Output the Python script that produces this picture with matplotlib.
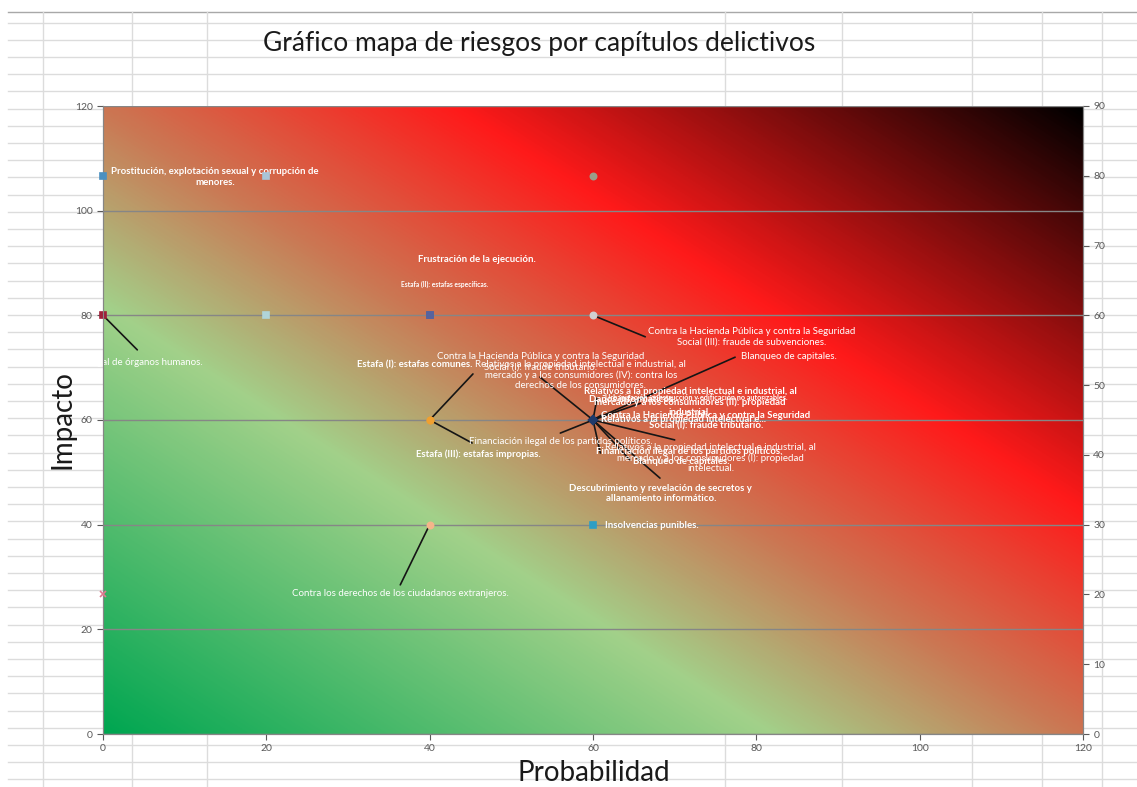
import numpy as np
import matplotlib.pyplot as plt
from matplotlib.colors import LinearSegmentedColormap

plt.rcParams['font.family'] = ['Lato', 'DejaVu Sans']

# capítulos delictivos: probabilidad, impacto y eje en que se dibuja cada uno
delitos = [
    "Prostitución, explotación sexual y corrupción de\nmenores.",
    "",
    "",
    "Tráfico ilegal de órganos humanos.",
    "",
    "Frustración de la ejecución.",
    "Estafa (II): estafas específicas.",
    "Contra la Hacienda Pública y contra la Seguridad\nSocial (III): fraude de subvenciones.",
    "Estafa (I): estafas comunes.",
    "Estafa (III): estafas impropias.",
    "Contra la Hacienda Pública y contra la Seguridad\nSocial (I): fraude tributario.",
    "Relativos a la propiedad intelectual e industrial, al\nmercado y a los consumidores (IV): contra los\nderechos de los consumidores.",
    "Financiación ilegal de los partidos políticos.",
    "Blanqueo de capitales.",
    "Relativos a la propiedad intelectual e industrial, al\nmercado y a los consumidores (II): propiedad\nindustrial.",
    "Urbanización, construcción y edificación no autorizables.",
    "Daños informáticos.",
    "Contra la Hacienda Pública y contra la Seguridad\nSocial (I): fraude tributario.",
    "Relativos a la propiedad intelectual e...",
    "Relativos a la propiedad intelectual e industrial, al\nmercado y a los consumidores (I): propiedad\nintelectual.",
    "Financiación ilegal de los partidos políticos.",
    "Blanqueo de capitales.",
    "Descubrimiento y revelación de secretos y\nallanamiento informático.",
    "Contra los derechos de los ciudadanos extranjeros.",
    "Insolvencias punibles.",
    "",
]
probabilidad = [0, 20, 60, 0, 20, 40, 40, 60, 40, 40, 60, 60, 60, 60, 60, 60,
                60, 60, 60, 60, 60, 60, 60, 40, 60, 0]
impacto = [80, 80, 80, 80, 80, 80, 80, 80, 60, 60, 60, 60, 60, 60, 60, 60,
           60, 60, 60, 60, 60, 60, 60, 40, 40, 20]
eje = ['sec', 'sec', 'sec', 'pri', 'pri', 'pri', 'pri', 'pri', 'pri', 'pri',
       'pri', 'pri', 'pri', 'pri', 'pri', 'pri', 'pri', 'pri', 'pri', 'pri',
       'pri', 'pri', 'pri', 'pri', 'pri', 'sec']

x_ticks = list(range(0, 121, 20))
y_ticks = list(range(0, 121, 20))
y2_ticks = list(range(0, 91, 10))

# estilo de cada serie
navy = '#1f3a6b'
colores = ['#4a90c0', '#a9c4d6', '#9aa08a', '#a0203a', '#b0d4d8', '#56639e',
           '#56639e', '#d0d0d0', '#f0a030', '#f0a030'] + [navy] * 13 + \
          ['#f5b58a', '#2e9ec4', '#e07890']
marcadores = ['s', 's', 'o', 's', 's', 's', 's', 'o', 'o', 'o'] + ['D'] * 13 + \
             ['o', 's', 'x']
negrita = [True, False, False, False, False, True, True, False, True, True,
           False, False, False, False, True, True, True, True, True, False,
           True, True, True, False, True, False]
tam = [7.0 if not b else 6.9 for b in negrita]
tam[6] = 4.8
tam[15] = 5.2

# posición de las etiquetas y extremo de la línea guía (coordenadas del eje principal)
pos_etiqueta = [
    (13.7, 106.4), None, None, (3.2, 70.9), None, (45.8, 90.6), (41.8, 86.0),
    (79.4, 75.9), (38.2, 70.5), (45.9, 53.5), (53.6, 71.1), (58.5, 68.6),
    (56.0, 55.8), (84.0, 72.2), (71.9, 63.4), (72.7, 64.4), (64.8, 64.0),
    (73.8, 59.8), (71.1, 60.0), (74.4, 52.7), (71.8, 53.9), (70.8, 52.0),
    (68.3, 45.9), (36.4, 26.9), (67.2, 39.9), None,
]
fin_guia = [
    None, None, None, (4.2, 73.4), None, None, None, (66.4, 75.9),
    (45.3, 68.8), (45.2, 55.6), (53.5, 68.2), (60.5, 64.2), (56.0, 57.5),
    (77.4, 72.0), (65.8, 63.2), None, None, (61.0, 60.9), None, (70.0, 56.2),
    (60.9, 53.7), (64.5, 52.4), (68.2, 48.9), (36.4, 28.5), None, None,
]

W, H = 1137, 787
fig = plt.figure(figsize=(W / 100, H / 100), dpi=100)

# cuadrícula de la hoja de cálculo detrás del gráfico
bg = fig.add_axes([0, 0, 1, 1], zorder=-10)
bg.set_xlim(0, W)
bg.set_ylim(H, 0)
bg.axis('off')
for k in range(-5, 40):
    yy = 108.5 + 17.2 * k
    bg.plot([8, W], [yy, yy], color='#dcdcdc', lw=1)
bg.plot([8, W], [12, 12], color='#a8a8a8', lw=1)
for xx in [43, 132, 207, 725, 842, 972, 1042, 1102]:
    bg.plot([xx, xx], [12, H], color='#dcdcdc', lw=1)

ax = fig.add_axes([103 / W, 1 - 734 / H, 980 / W, 628 / H])
ax2 = ax.twinx()

# degradado verde - rojo - negro en diagonal
cmap = LinearSegmentedColormap.from_list('riesgo', [
    (0.0, '#00a651'), (0.34, '#a2d18a'), (0.50, '#cc7552'),
    (0.68, '#ff1a1a'), (1.0, '#000000')])
u, v = np.meshgrid(np.linspace(0, 1, 400), np.linspace(0, 1, 400))
ax.imshow((u + v) / 2, cmap=cmap, vmin=0, vmax=1, origin='lower',
          extent=[0, 120, 0, 120], aspect='auto', interpolation='bilinear',
          zorder=0)

ax.set_xlim(0, 120)
ax.set_ylim(0, 120)
ax2.set_ylim(0, 90)
ax.set_xticks(x_ticks)
ax.set_yticks(y_ticks)
ax2.set_yticks(y2_ticks)
ax.set_axisbelow(True)
ax.yaxis.grid(True, color='#868686', lw=1)
for a in (ax, ax2):
    for s in a.spines.values():
        s.set_color('#868686')
    a.spines['top'].set_visible(False)
    a.tick_params(labelsize=7.5, colors='#595959', length=4, width=0.8)

# líneas guía
for i, fin in enumerate(fin_guia):
    if fin is None:
        continue
    eje_i = ax2 if eje[i] == 'sec' else ax
    ax.annotate('', xy=(probabilidad[i], impacto[i]), xycoords=eje_i.transData,
                xytext=fin, textcoords=ax.transData,
                arrowprops=dict(arrowstyle='-', color='#151515', lw=1.2,
                                shrinkA=0, shrinkB=0), zorder=3)

# puntos
for i in range(len(delitos)):
    eje_i = ax2 if eje[i] == 'sec' else ax
    ms = 4.0 if marcadores[i] == 'D' else 4.5
    eje_i.plot(probabilidad[i], impacto[i], marker=marcadores[i], ms=ms,
               color=colores[i], mec=colores[i], mew=1.2, ls='none',
               clip_on=False, zorder=4)

# etiquetas de datos
for i, txt in enumerate(delitos):
    if not txt or pos_etiqueta[i] is None:
        continue
    ax.text(pos_etiqueta[i][0], pos_etiqueta[i][1], txt, color='white',
            fontsize=tam[i], fontweight='bold' if negrita[i] else 'normal',
            ha='center', va='center', linespacing=1.2, zorder=5,
            clip_on=False)

fig.text(539 / W, 1 - 43 / H, 'Gráfico mapa de riesgos por capítulos delictivos',
         fontsize=19, ha='center', va='center', color='#1a1a1a')
fig.text(62 / W, 1 - 420 / H, 'Impacto', fontsize=20, rotation=90,
         ha='center', va='center', color='#1a1a1a')
fig.text(594 / W, 1 - 773 / H, 'Probabilidad', fontsize=20,
         ha='center', va='center', color='#1a1a1a')

fig.savefig('out.png', dpi=100)
